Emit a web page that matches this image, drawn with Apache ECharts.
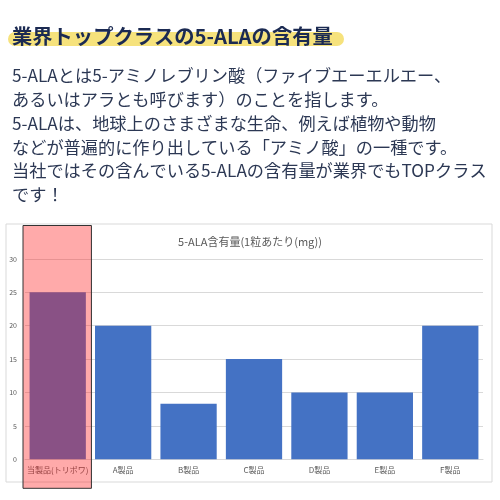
<!DOCTYPE html>
<html><head><meta charset="utf-8">
<script src="https://cdn.jsdelivr.net/npm/echarts@6/dist/echarts.min.js"></script>
<style>html,body{margin:0;padding:0;background:#fff}#c{width:500px;height:500px}</style>
</head><body><div id="c"></div>
<script>
const heading = '業界トップクラスの5-ALAの含有量';
const paragraphLines = [
  '5-ALAとは5-アミノレブリン酸（ファイブエーエルエー、',
  'あるいはアラとも呼びます）のことを指します。',
  '5-ALAは、地球上のさまざまな生命、例えば植物や動物',
  'などが普遍的に作り出している「アミノ酸」の一種です。',
  '当社ではその含んでいる5-ALAの含有量が業界でもTOPクラス',
  'です！'
];
const chartTitle = '5-ALA含有量(1粒あたり(mg))';
const categories = ['当製品(トリポワ)', 'A製品', 'B製品', 'C製品', 'D製品', 'E製品', 'F製品'];
const values = [25, 20, 8.3, 15, 10, 10, 20];
const highlightIndex = 0;

const FONT = '"Noto Sans CJK JP", "Noto Sans", sans-serif';
const chart = echarts.init(document.getElementById('c'));
const lineY = [79, 102.5, 126.5, 150.5, 174, 198];
const textEls = paragraphLines.map((t, i) => ({
  type: 'text', left: 12, top: lineY[i] - 12,
  style: { text: t, font: '17.2px ' + FONT, fill: '#2c3854' }
}));
chart.setOption({
  animation: false,
  title: {
    text: chartTitle, left: 'center', top: 231,
    textStyle: { fontFamily: FONT, fontSize: 11, fontWeight: 'normal', color: '#595959' }
  },
  grid: { left: 25, right: 17, top: 225.5, bottom: 40.7, containLabel: false },
  xAxis: {
    type: 'category', data: categories,
    axisLine: { lineStyle: { color: '#d9d9d9' } },
    axisTick: { show: false },
    axisLabel: { fontFamily: FONT, fontSize: 8, color: '#595959', margin: 7, interval: 0 }
  },
  yAxis: {
    type: 'value', min: 0, max: 35, interval: 5,
    axisLabel: { fontFamily: FONT, fontSize: 7, color: '#595959', margin: 8,
      formatter: v => v === 35 ? '' : v },
    splitLine: { lineStyle: { color: '#d9d9d9' }, showMaxLine: false }
  },
  series: [{
    type: 'bar', data: values, barCategoryGap: '14%',
    itemStyle: { color: '#4472c4' }
  }],
  graphic: [
    { type: 'rect', shape: { x: 6, y: 224, width: 486, height: 258 },
      style: { fill: 'none', stroke: '#d9d9d9', lineWidth: 1 }, z: 0 },
    { type: 'rect', shape: { x: 8, y: 32, width: 336, height: 14, r: 7 },
      style: { fill: '#f6e27c' }, z: 1 },
    { type: 'text', left: 12, top: 26,
      style: { text: heading, font: 'bold 20.3px ' + FONT, fill: '#1b2a52' }, z: 2 },
    ...textEls
  ]
});
const cw = chart.getModel().getComponent('xAxis').axis.getBandWidth();
const cx = chart.convertToPixel({ xAxisIndex: 0 }, categories[highlightIndex]);
const yTop = chart.convertToPixel({ yAxisIndex: 0 }, 35);
const y0 = chart.convertToPixel({ yAxisIndex: 0 }, 0);
const g = chart.getOption().graphic[0].elements;
g.push({ type: 'rect', shape: { x: cx - cw / 2 - 2, y: yTop, width: cw + 3, height: y0 - yTop + 29 },
  style: { fill: 'rgba(255,25,25,0.37)', stroke: '#333', lineWidth: 1 }, z: 10 });
chart.setOption({ graphic: g }, { replaceMerge: ['graphic'] });
</script></body></html>
